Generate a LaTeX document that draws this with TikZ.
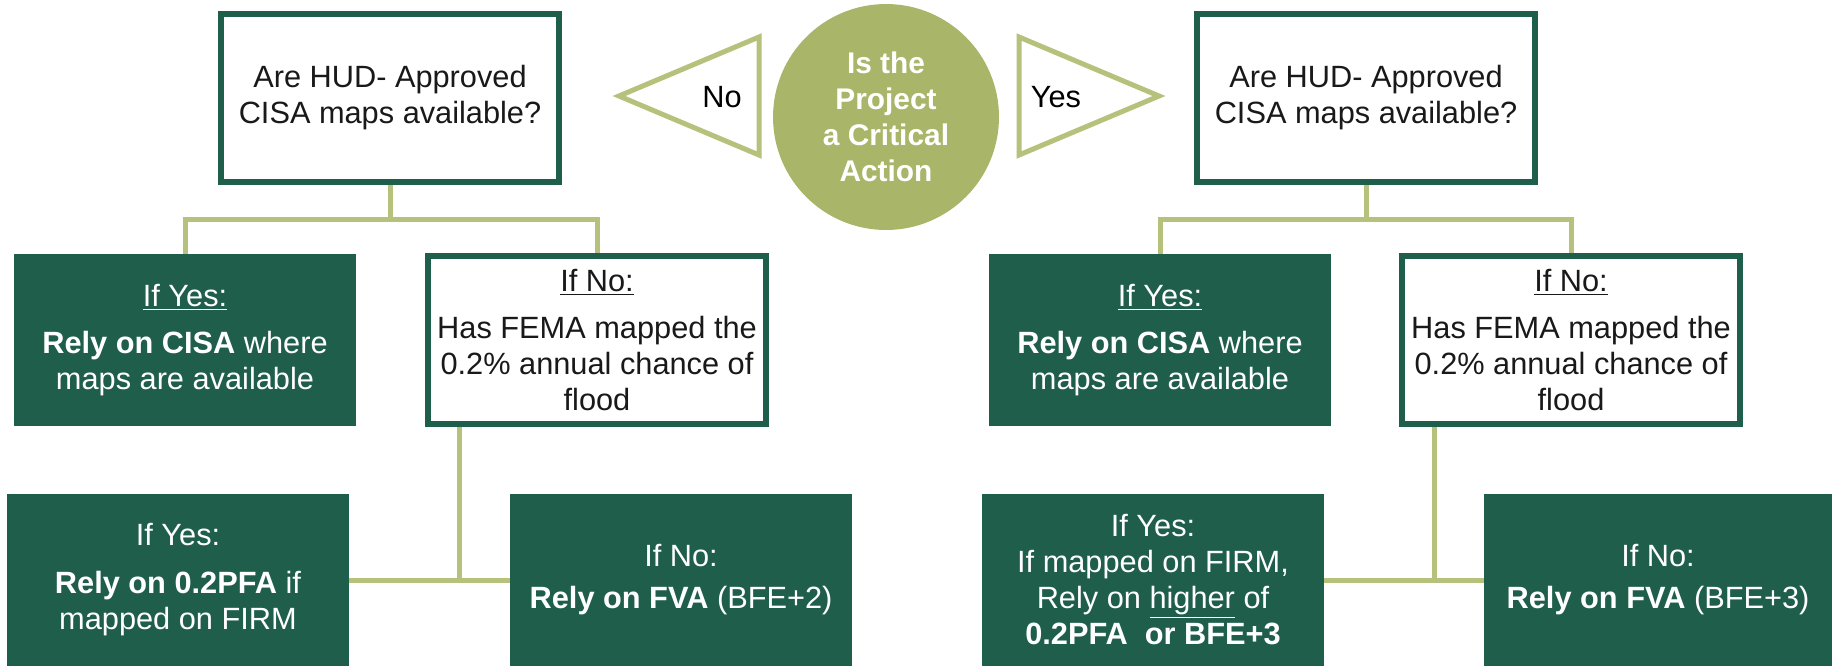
\documentclass[tikz,border=0pt]{standalone}
\usepackage{fontspec}
\setmainfont{Liberation Sans}
\definecolor{pine}{HTML}{1F5E4B}
\definecolor{moss}{HTML}{A9B568}
\definecolor{fern}{HTML}{B6C27C}

\begin{document}
\begin{tikzpicture}[x=0.02cm, y=-0.02cm,
		every node/.style={font=\fontsize{17.5}{20.5}\selectfont, align=center},
		box/.style={rectangle, minimum width=6.84cm, minimum height=3.44cm, inner sep=0pt},
		askbox/.style={box, draw=pine, line width=0.12cm, minimum width=6.76cm, minimum height=3.38cm, fill=white, text=black!90},
		darkbox/.style={box, fill=pine, text=white},
		link/.style={draw=fern, line width=0.1cm},
		pointer/.style={draw=fern, line width=0.1cm, line join=miter}]
		\useasboundingbox (0,0) rectangle (1834,667);
		\node[circle, fill=moss, minimum size=4.52cm, text=white, font=\bfseries\fontsize{17}{20.5}\selectfont](Q) at (886,117){Is the\\Project\\a Critical\\Action};
		\node(no) at (722,97){No};
		\draw[pointer](759,37) -- (619,96) -- (759,155) -- cycle;
		\node(yes) at (1056,97){Yes};
		\draw[pointer](1019,37) -- (1159,96) -- (1019,155) -- cycle;
		\node[askbox](A) at (390,98){Are HUD- Approved\\CISA maps available?};
		\node[askbox](B) at (1366,98){Are HUD- Approved\\CISA maps available?};
		\node[darkbox](C) at (185,340){\underline{If Yes:}\\[0.22cm]\textbf{Rely on CISA} where\\maps are available};
		\node[askbox](D) at (597,340){\underline{If No:}\\[0.22cm]Has FEMA mapped the\\0.2\% annual chance of\\flood};
		\node[darkbox](E) at (1160,340){\underline{If Yes:}\\[0.22cm]\textbf{Rely on CISA} where\\maps are available};
		\node[askbox](F) at (1571,340){\underline{If No:}\\[0.22cm]Has FEMA mapped the\\0.2\% annual chance of\\flood};
		\node[darkbox](G) at (178,580){If Yes:\\[0.24cm]\textbf{Rely on 0.2PFA} if\\mapped on FIRM};
		\node[darkbox](H) at (681,580){If No:\\[0.12cm]\textbf{Rely on FVA} (BFE+2)};
		\node[darkbox](I) at (1153,580){If Yes:\\If mapped on FIRM,\\Rely on \underline{higher} of\\\textbf{0.2PFA\ \ or BFE+3}};
		\node[darkbox, minimum width=6.96cm](J) at (1658,580){If No:\\[0.12cm]\textbf{Rely on FVA} (BFE+3)};
		\draw[link](A.south) -- ++(0,34) coordinate(a);
		\draw[link](C.north) |- (a) -| (D.north);
		\draw[link](B.south) -- ++(0,34) coordinate(b);
		\draw[link](E.north) |- (b) -| (F.north);
		\coordinate(d) at (459,580);
		\draw[link](d |- D.south) -- (d);
		\draw[link](G.east) -- (H.west);
		\coordinate(f) at (1434,580);
		\draw[link](f |- F.south) -- (f);
		\draw[link](I.east) -- (J.west);
	\end{tikzpicture}
\end{document}
